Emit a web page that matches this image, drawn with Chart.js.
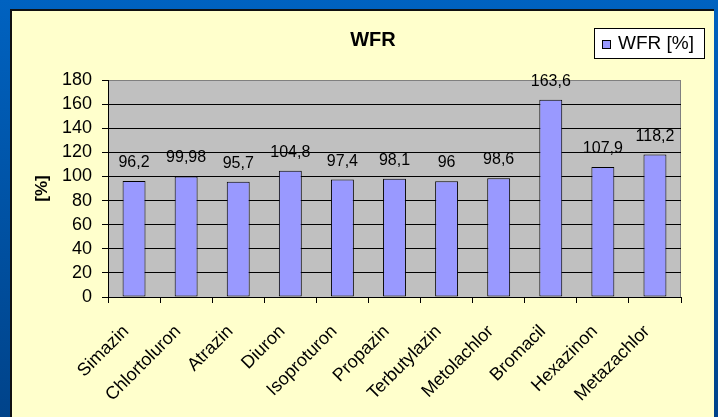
<!DOCTYPE html>
<html>
<head>
<meta charset="utf-8">
<script src="https://cdn.jsdelivr.net/npm/chart.js@4/dist/chart.umd.min.js"></script>
<style>
    body { margin: 0; background: #0058b0; }
    canvas { display: block; }
</style>
</head>
<body>
<canvas id="wfrChart" width="718" height="417"></canvas>
<script>
// الفئات والقيم
const categories = ['Simazin', 'Chlortoluron', 'Atrazin', 'Diuron', 'Isoproturon', 'Propazin',
    'Terbutylazin', 'Metolachlor', 'Bromacil', 'Hexazinon', 'Metazachlor'];
const wfrValues = [96.2, 99.98, 95.7, 104.8, 97.4, 98.1, 96, 98.6, 163.6, 107.9, 118.2];
const seriesName = 'WFR [%]';
const chartTitle = 'WFR';
const yTitle = '[%]';
const yMin = 0;
const yMax = 180;
const yStep = 20;

const FONT = '"Liberation Sans", Arial, sans-serif';
Chart.defaults.font.family = FONT;
Chart.defaults.color = '#000';

// الخلفية: الإطار الأزرق واللوحة الصفراء ومنطقة الرسم الرمادية
const backgroundPlugin = {
    id: 'background',
    beforeDraw(chart) {
        const ctx = chart.ctx;
        const w = chart.width, h = chart.height;
        const grad = ctx.createLinearGradient(0, 0, 0, h);
        grad.addColorStop(0, '#0062c0');
        grad.addColorStop(1, '#00438a');
        ctx.save();
        ctx.fillStyle = grad;
        ctx.fillRect(0, 0, w, h);
        ctx.fillStyle = '#111';
        ctx.fillRect(10, 9, w - 14, h);
        ctx.fillStyle = '#ffffcc';
        ctx.fillRect(12, 11, w - 16, h);
        const a = chart.chartArea;
        ctx.fillStyle = '#c0c0c0';
        ctx.fillRect(a.left, a.top, a.right - a.left, a.bottom - a.top);
        ctx.strokeStyle = '#808080';
        ctx.lineWidth = 1;
        ctx.strokeRect(a.left + 0.5, a.top + 0.5, a.right - a.left - 1, a.bottom - a.top);
        ctx.restore();
    }
};

// العنوان وقيم الأعمدة ومفتاح الرسم
const labelsPlugin = {
    id: 'labels',
    afterDatasetsDraw(chart) {
        const ctx = chart.ctx;
        const meta = chart.getDatasetMeta(0);
        ctx.save();
        ctx.fillStyle = '#000';
        ctx.textAlign = 'center';
        ctx.textBaseline = 'alphabetic';
        ctx.font = '16px ' + FONT;
        meta.data.forEach((bar, i) => {
            const txt = String(wfrValues[i]).replace('.', ',');
            ctx.fillText(txt, bar.x, bar.y - 14);
        });
        ctx.restore();
    },
    afterDraw(chart) {
        const ctx = chart.ctx;
        ctx.save();
        // العنوان
        ctx.fillStyle = '#000';
        ctx.textAlign = 'center';
        ctx.textBaseline = 'middle';
        ctx.font = 'bold 20px ' + FONT;
        ctx.fillText(chartTitle, 373, 40);
        // مفتاح الرسم
        const lx = 594, ly = 28, lw = 111, lh = 31;
        ctx.fillStyle = '#fff';
        ctx.fillRect(lx, ly, lw, lh);
        ctx.strokeStyle = '#000';
        ctx.lineWidth = 1;
        ctx.strokeRect(lx + 0.5, ly + 0.5, lw - 1, lh - 1);
        ctx.fillStyle = '#9999ff';
        ctx.fillRect(lx + 8, ly + 12, 9, 9);
        ctx.strokeRect(lx + 8.5, ly + 12.5, 8, 8);
        ctx.fillStyle = '#000';
        ctx.textAlign = 'left';
        ctx.font = '19px ' + FONT;
        ctx.fillText(seriesName, lx + 24, ly + 16);
        ctx.restore();
    }
};

const ctx = document.getElementById('wfrChart').getContext('2d');
const wfrChart = new Chart(ctx, {
    type: 'bar',
    data: {
        labels: categories,
        datasets: [{
            label: seriesName,
            data: wfrValues,
            backgroundColor: '#9999ff',
            borderColor: '#000',
            borderWidth: 1,
            borderSkipped: false,
            barPercentage: 0.44,
            categoryPercentage: 1
        }]
    },
    options: {
        responsive: false,
        animation: false,
        devicePixelRatio: 1,
        layout: {
            padding: { left: 20, right: 37, top: 80, bottom: 0 }
        },
        plugins: {
            legend: { display: false },
            title: { display: false },
            tooltip: { enabled: false }
        },
        scales: {
            x: {
                offset: true,
                grid: {
                    offset: true,
                    drawOnChartArea: false,
                    drawTicks: true,
                    tickLength: 6,
                    color: '#000'
                },
                border: { display: true, color: '#000', width: 1 },
                ticks: {
                    autoSkip: false,
                    minRotation: 45,
                    maxRotation: 45,
                    padding: 18,
                    labelOffset: -8,
                    color: '#000',
                    font: { size: 18 }
                },
                afterFit(scale) {
                    scale.height = 120;
                }
            },
            y: {
                min: yMin,
                max: yMax,
                grid: {
                    color: (c) => (c.tick && c.tick.value === yMax ? '#808080' : '#000'),
                    lineWidth: 1,
                    drawTicks: true,
                    tickLength: 6,
                    tickColor: '#000'
                },
                border: { display: true, color: '#000', width: 1 },
                ticks: {
                    stepSize: yStep,
                    autoSkip: false,
                    padding: 10,
                    color: '#000',
                    font: { size: 18 }
                },
                title: {
                    display: true,
                    text: yTitle,
                    color: '#000',
                    font: { size: 17, weight: 'bold' },
                    padding: { top: 12, bottom: 0 }
                },
                afterFit(scale) {
                    scale.width = 88;
                }
            }
        }
    },
    plugins: [backgroundPlugin, labelsPlugin]
});
</script>
</body>
</html>
